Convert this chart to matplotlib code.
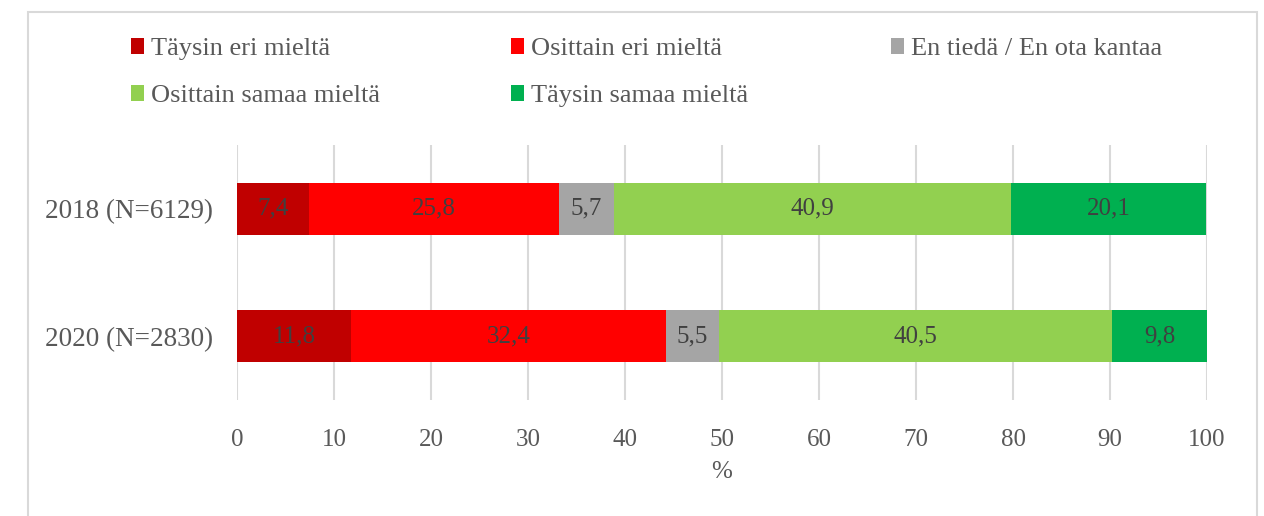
import matplotlib
matplotlib.use("Agg")
import matplotlib.pyplot as plt
from matplotlib.patches import Patch, Rectangle

# data
groups = ["2018 (N=6129)", "2020 (N=2830)"]
categories = ["Täysin eri mieltä", "Osittain eri mieltä", "En tiedä / En ota kantaa",
              "Osittain samaa mieltä", "Täysin samaa mieltä"]
vals_2018 = [7.4, 25.8, 5.7, 40.9, 20.1]
vals_2020 = [11.8, 32.4, 5.5, 40.5, 9.8]
colors = ["#C00000", "#FF0000", "#A5A5A5", "#92D050", "#00B050"]
xticks = [0, 10, 20, 30, 40, 50, 60, 70, 80, 90, 100]

plt.rcParams['font.family'] = ['Liberation Serif', 'DejaVu Serif']
txt = "#595959"

fig = plt.figure(figsize=(12.64, 5.16), dpi=100)
ax = fig.add_axes([237 / 1264, 1 - 400 / 516, 970 / 1264, 255 / 516])

# outer frame
fig.patches.append(Rectangle((28 / 1264, -0.02), 1229 / 1264, 1.02 - 12 / 516,
                             transform=fig.transFigure, fill=False,
                             edgecolor="#D9D9D9", linewidth=1.5))

ypos = list(range(len(groups)))
left = [0.0] * len(groups)
handles = []
for i, cat in enumerate(categories):
    widths = [vals_2018[i], vals_2020[i]]
    bars = ax.barh(ypos, widths, left=left, height=0.41, color=colors[i], zorder=3)
    ax.bar_label(bars, labels=[f"{w:.1f}".replace(".", ",") for w in widths],
                 label_type="center", fontsize=18, color="#404040")
    left = [l + w for l, w in zip(left, widths)]
    handles.append(Patch(facecolor=colors[i], label=cat))

ax.set_ylim(1.5, -0.5)
ax.set_xlim(0, 100)
ax.set_yticks(ypos)
ax.set_yticklabels(groups, fontsize=19.5, color=txt)
ax.set_xticks(xticks)
ax.set_xticklabels([str(t) for t in xticks], fontsize=18, color=txt)
ax.tick_params(axis="both", length=0)
ax.tick_params(axis="x", pad=21)
ax.tick_params(axis="y", pad=17)
ax.set_xlabel("%", fontsize=18, color=txt, labelpad=7)
ax.grid(axis="x", color="#D9D9D9", linewidth=1.5, zorder=0)
for s in ax.spines.values():
    s.set_visible(False)

# legend, one entry per slot so columns line up like the original
slots = [(131, 49), (511, 49), (891, 49), (131, 96), (511, 96)]
for h, (px, py) in zip(handles, slots):
    lg = fig.legend(handles=[h], loc="center left",
                    bbox_to_anchor=(px / 1264, 1 - py / 516),
                    frameon=False, fontsize=19, handlelength=0.5, handleheight=0.55,
                    handletextpad=0.25, borderpad=0, borderaxespad=0)
    for t in lg.get_texts():
        t.set_color(txt)

fig.savefig("out.png", dpi=100)
